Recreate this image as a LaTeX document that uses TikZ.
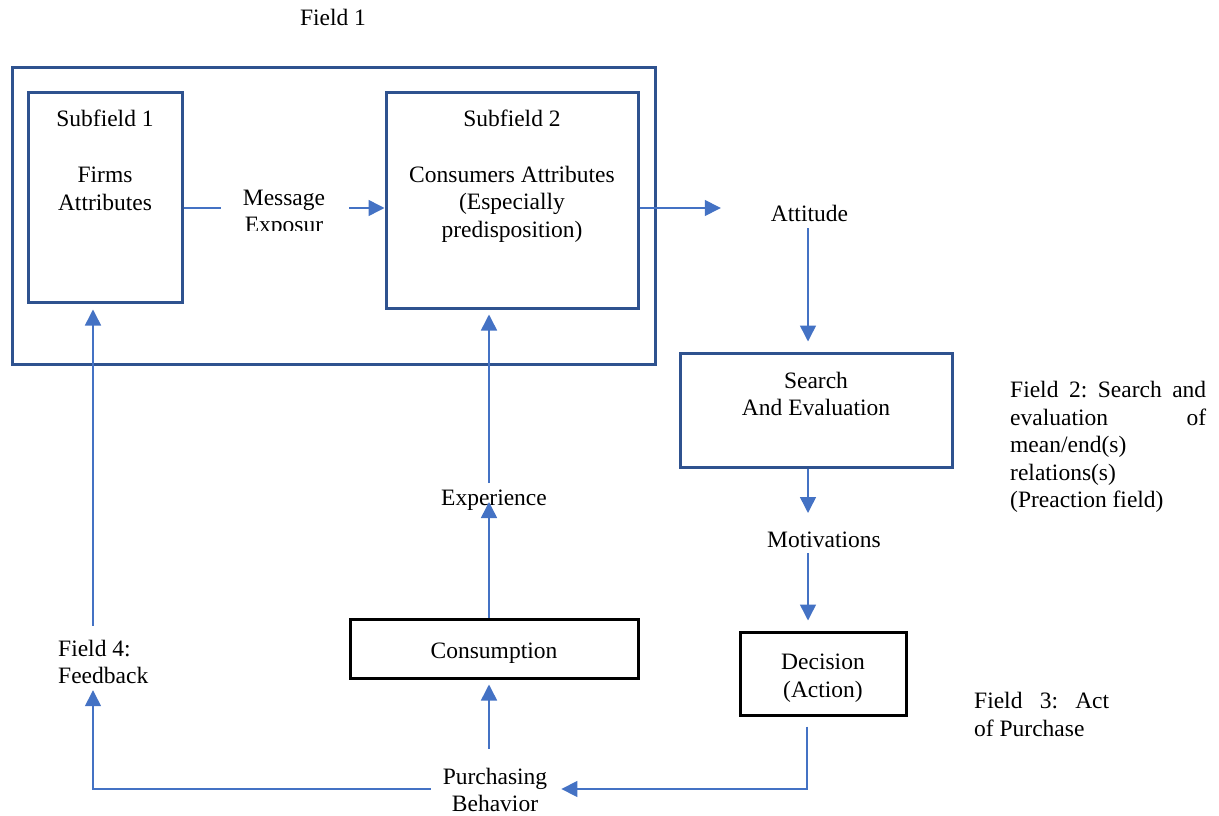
\documentclass[tikz,border=0pt]{standalone}
\usepackage{fontspec}
\setmainfont{Liberation Serif}
\usetikzlibrary{arrows.meta,calc}

\definecolor{boxblue}{RGB}{47,82,143}
\definecolor{arrowblue}{RGB}{68,114,196}

\newcommand{\dgfont}{\fontsize{23.5}{27.5}\selectfont\frenchspacing}
% a line spread out to the full given width
\newcommand{\spreadline}[2]{\makebox[#1][s]{\spaceskip=0pt\xspaceskip=0pt #2}}

\tikzset{
  every node/.style={font=\dgfont, inner sep=0pt},
  blackbox/.style={draw=black, line width=3pt},
  bluebox/.style={draw=boxblue, line width=3pt},
  lbl/.style={align=center},
  link/.style={draw=arrowblue, line width=1.5pt},
  arr/.style={link, -{Triangle[length=16pt,width=16pt]}},
}

\begin{document}
\begin{tikzpicture}[x=1pt,y=-1pt]
\useasboundingbox (0,0) rectangle (1219,816);

% title of the first field
\node[anchor=base] (f1) at (333,26) {Field 1};

% field 1 frame with its two subfields
\node[bluebox, minimum width=643pt, minimum height=296pt] (outer) at (333.5,216) {};
\node[bluebox, minimum width=154pt, minimum height=209pt] (sub1) at (105,197.5) {};
\node[bluebox, minimum width=252pt, minimum height=215pt] (sub2) at (512,200.5) {};

\node[anchor=base] (s1t) at (105,126) {Subfield 1};
\node[lbl] (s1a) at (105,189) {Firms\\Attributes};
\node[anchor=base] (s2t) at (512,126) {Subfield 2};
\node[lbl] (s2a) at (512,204) {Consumers Attributes\\(Especially\\predisposition)};

% message label, cut off below its first line
\begin{scope}
  \clip (200,170) rectangle (370,230);
  \node[lbl] (msg) at (284,214) {Message\\Exposur};
\end{scope}

% field 2
\node[anchor=base] (att) at (809.5,221) {Attitude};
\node[bluebox, minimum width=272pt, minimum height=114pt] (search) at (816,410) {};
\node[lbl] (srch) at (816,394) {Search\\And Evaluation};
\node[anchor=north west, align=left, text width=196pt] (f2) at (1010,381)
  {\spaceskip=0pt\xspaceskip=0pt
   \spreadline{196pt}{Field 2: Search and}\\
   \spreadline{196pt}{evaluation of}\\
   mean/end(s)\\
   relations(s)\\
   (Preaction field)};
\node[anchor=base] (mot) at (824,547) {Motivations};

% field 3
\node[blackbox, minimum width=166pt, minimum height=83pt] (dec) at (823,673.5) {};
\node[lbl] (dect) at (823,678) {Decision\\(Action)};
\node[anchor=north west, align=left] (f3) at (974,692)
  {\spaceskip=0pt\xspaceskip=0pt
   \spreadline{135pt}{Field 3: Act}\\of Purchase};

% purchase and consumption
\node[lbl] (pb) at (495,790) {Purchasing\\Behavior};
\node[blackbox, minimum width=288pt, minimum height=59pt] (cons) at (494,648.5) {};
\node[anchor=base] (const) at (494,658) {Consumption};
\node[anchor=base] (exp) at (494,505) {Experience};

% field 4
\node[anchor=west, align=left] (fb) at (58,662) {Field 4:\\Feedback};

% connector columns and rows
\coordinate (mrow) at (0,208);
\coordinate (brow) at (0,789);
\coordinate (colR) at (808,0);
\coordinate (colD) at (807,0);
\coordinate (colM) at (489,0);
\coordinate (colL) at (93,0);

% connectors
\draw[link] (sub1.east |- mrow) -- ($(msg.west |- mrow)+(-22,0)$);
\draw[arr] ($(msg.east |- mrow)+(24,0)$) -- (sub2.west |- mrow);
\draw[arr, shorten >=50pt] (sub2.east |- mrow) -- (att.west |- mrow);
\draw[arr, shorten <=7pt, shorten >=10pt] (att.base -| colR) -- (search.north -| colR);
\draw[arr, shorten >=34pt] (search.south -| colR) -- (mot.base -| colR);
\draw[arr, shorten <=6pt, shorten >=10pt] (mot.base -| colR) -- (dec.north -| colR);
\draw[arr, shorten <=10pt, shorten >=14pt] (dec.south -| colD) -- (colD |- brow) -- (pb.east |- brow);
\draw[arr, shorten <=12pt, shorten >=6pt] (pb.west |- brow) -| (fb.south -| colL);
\draw[arr, shorten <=14pt, shorten >=6pt] (fb.north -| colL) -- (sub1.south -| colL);
\draw[arr, shorten <=19pt, shorten >=5pt] (pb.north -| colM) -- (cons.south -| colM);
\draw[arr, shorten >=-3pt] (cons.north -| colM) -- (exp.base -| colM);
\draw[arr, shorten <=22pt, shorten >=5pt] (exp.base -| colM) -- (sub2.south -| colM);
\end{tikzpicture}
\end{document}
